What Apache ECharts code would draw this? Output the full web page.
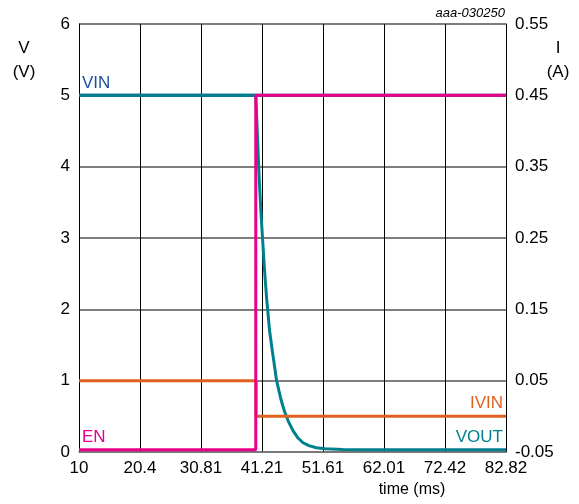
<!DOCTYPE html>
<html>
<head>
<meta charset="utf-8">
<script src="https://cdn.jsdelivr.net/npm/echarts@6/dist/echarts.min.js"></script>
<style>html,body{margin:0;padding:0;background:#fff;}#c{width:579px;height:504px;}</style>
</head>
<body>
<div id="c"></div>
<script>
// ---- data ----
var xTickLabels = ['10', '20.4', '30.81', '41.21', '51.61', '62.01', '72.42', '82.82'];
var leftTickLabels = ['0', '1', '2', '3', '4', '5', '6'];
var rightTickLabels = ['-0.05', '0.05', '0.15', '0.25', '0.35', '0.45', '0.55'];

// time (ms), volts
var vinTime = [10, 82.82];
var vinVals = [5, 5];

var voutTime = [10, 40.15, 40.3, 40.5, 40.75, 41.0, 41.3, 41.6, 42.0, 42.5, 43.0, 43.7, 44.4, 45.0, 45.7, 46.5, 47.3, 48.2, 49.2, 50.5, 52.0, 55.0, 60.0, 82.82];
var voutVals = [5, 5, 4.7, 4.3, 3.8, 3.4, 3.0, 2.6, 2.15, 1.7, 1.4, 1.0, 0.75, 0.58, 0.43, 0.3, 0.2, 0.13, 0.09, 0.06, 0.045, 0.035, 0.03, 0.03];

var enTime = [10, 40.15, 40.15, 82.82];
var enVals = [0.03, 0.03, 5, 5];

// time (ms), amps
var ivinTime = [10, 40.2, 40.2, 82.82];
var ivinVals = [0.05, 0.05, 0.0, 0.0];

function pairs(t, v) { return t.map(function (x, i) { return [x, v[i]]; }); }

var xMin = 10, xMax = 82.82, xStep = (82.82 - 10) / 7;
var font = 'Liberation Sans, Arial, sans-serif';

var chart = echarts.init(document.getElementById('c'), null, { renderer: 'canvas' });
chart.setOption({
  animation: false,
  backgroundColor: '#fff',
  grid: { left: 79, right: 73, top: 24, bottom: 52, containLabel: false },
  xAxis: {
    type: 'value', min: xMin, max: xMax, interval: xStep,
    axisLine: { show: true, lineStyle: { color: '#777', width: 1.5 } },
    axisTick: { show: false },
    axisLabel: {
      color: '#000', fontSize: 17, fontFamily: font, margin: 8,
      formatter: function (v) { return xTickLabels[Math.round((v - xMin) / xStep)]; }
    },
    splitLine: { show: true, lineStyle: { color: '#000', width: 1 } }
  },
  yAxis: [
    {
      type: 'value', min: 0, max: 6, interval: 1, position: 'left',
      axisLine: { show: true, lineStyle: { color: '#000', width: 1 } },
      axisTick: { show: false },
      axisLabel: {
        color: '#000', fontSize: 17, fontFamily: font, margin: 9,
        formatter: function (v) { return leftTickLabels[Math.round(v)]; }
      },
      splitLine: { show: true, lineStyle: { color: '#555', width: 1.5 } }
    },
    {
      type: 'value', min: -0.05, max: 0.55, interval: 0.1, position: 'right',
      axisLine: { show: true, lineStyle: { color: '#000', width: 1 } },
      axisTick: { show: false },
      axisLabel: {
        color: '#000', fontSize: 17, fontFamily: font, margin: 9,
        formatter: function (v) { return rightTickLabels[Math.round((v + 0.05) / 0.1)]; }
      },
      splitLine: { show: false }
    }
  ],
  series: [
    { name: 'VIN', type: 'line', data: pairs(vinTime, vinVals), showSymbol: false, z: 1,
      lineStyle: { color: '#1F4E9E', width: 3 } },
    { name: 'VOUT', type: 'line', data: pairs(voutTime, voutVals), showSymbol: false, smooth: false, z: 2,
      lineStyle: { color: '#00808C', width: 3, join: 'round' } },
    { name: 'IVIN', type: 'line', yAxisIndex: 1, data: pairs(ivinTime, ivinVals), showSymbol: false, z: 3,
      lineStyle: { color: '#E0601F', width: 3 } },
    { name: 'EN', type: 'line', data: pairs(enTime, enVals), showSymbol: false, z: 4,
      lineStyle: { color: '#E8008A', width: 3 } }
  ],
  graphic: [
    { type: 'text', x: 24, y: 48, style: { text: 'V', fill: '#000', font: '17px ' + font, textAlign: 'center', textVerticalAlign: 'middle' } },
    { type: 'text', x: 24, y: 72, style: { text: '(V)', fill: '#000', font: '17px ' + font, textAlign: 'center', textVerticalAlign: 'middle' } },
    { type: 'text', x: 558, y: 48, style: { text: 'I', fill: '#000', font: '17px ' + font, textAlign: 'center', textVerticalAlign: 'middle' } },
    { type: 'text', x: 558, y: 72, style: { text: '(A)', fill: '#000', font: '17px ' + font, textAlign: 'center', textVerticalAlign: 'middle' } },
    { type: 'text', x: 505, y: 13, style: { text: 'aaa-030250', fill: '#000', font: 'italic 13px ' + font, textAlign: 'right', textVerticalAlign: 'middle' } },
    { type: 'text', x: 412, y: 490, style: { text: 'time (ms)', fill: '#000', font: '16px ' + font, textAlign: 'center', textVerticalAlign: 'middle' } },
    { type: 'text', x: 82, y: 83, z: 10, style: { text: 'VIN', fill: '#1F4E9E', font: '17px ' + font, textAlign: 'left', textVerticalAlign: 'middle', backgroundColor: '#fff' } },
    { type: 'text', x: 82, y: 437, z: 10, style: { text: 'EN', fill: '#E8008A', font: '17px ' + font, textAlign: 'left', textVerticalAlign: 'middle', backgroundColor: '#fff' } },
    { type: 'text', x: 503, y: 403, z: 10, style: { text: 'IVIN', fill: '#E0601F', font: '17px ' + font, textAlign: 'right', textVerticalAlign: 'middle', backgroundColor: '#fff' } },
    { type: 'text', x: 503, y: 437, z: 10, style: { text: 'VOUT', fill: '#00808C', font: '17px ' + font, textAlign: 'right', textVerticalAlign: 'middle', backgroundColor: '#fff' } }
  ]
});
</script>
</body>
</html>
